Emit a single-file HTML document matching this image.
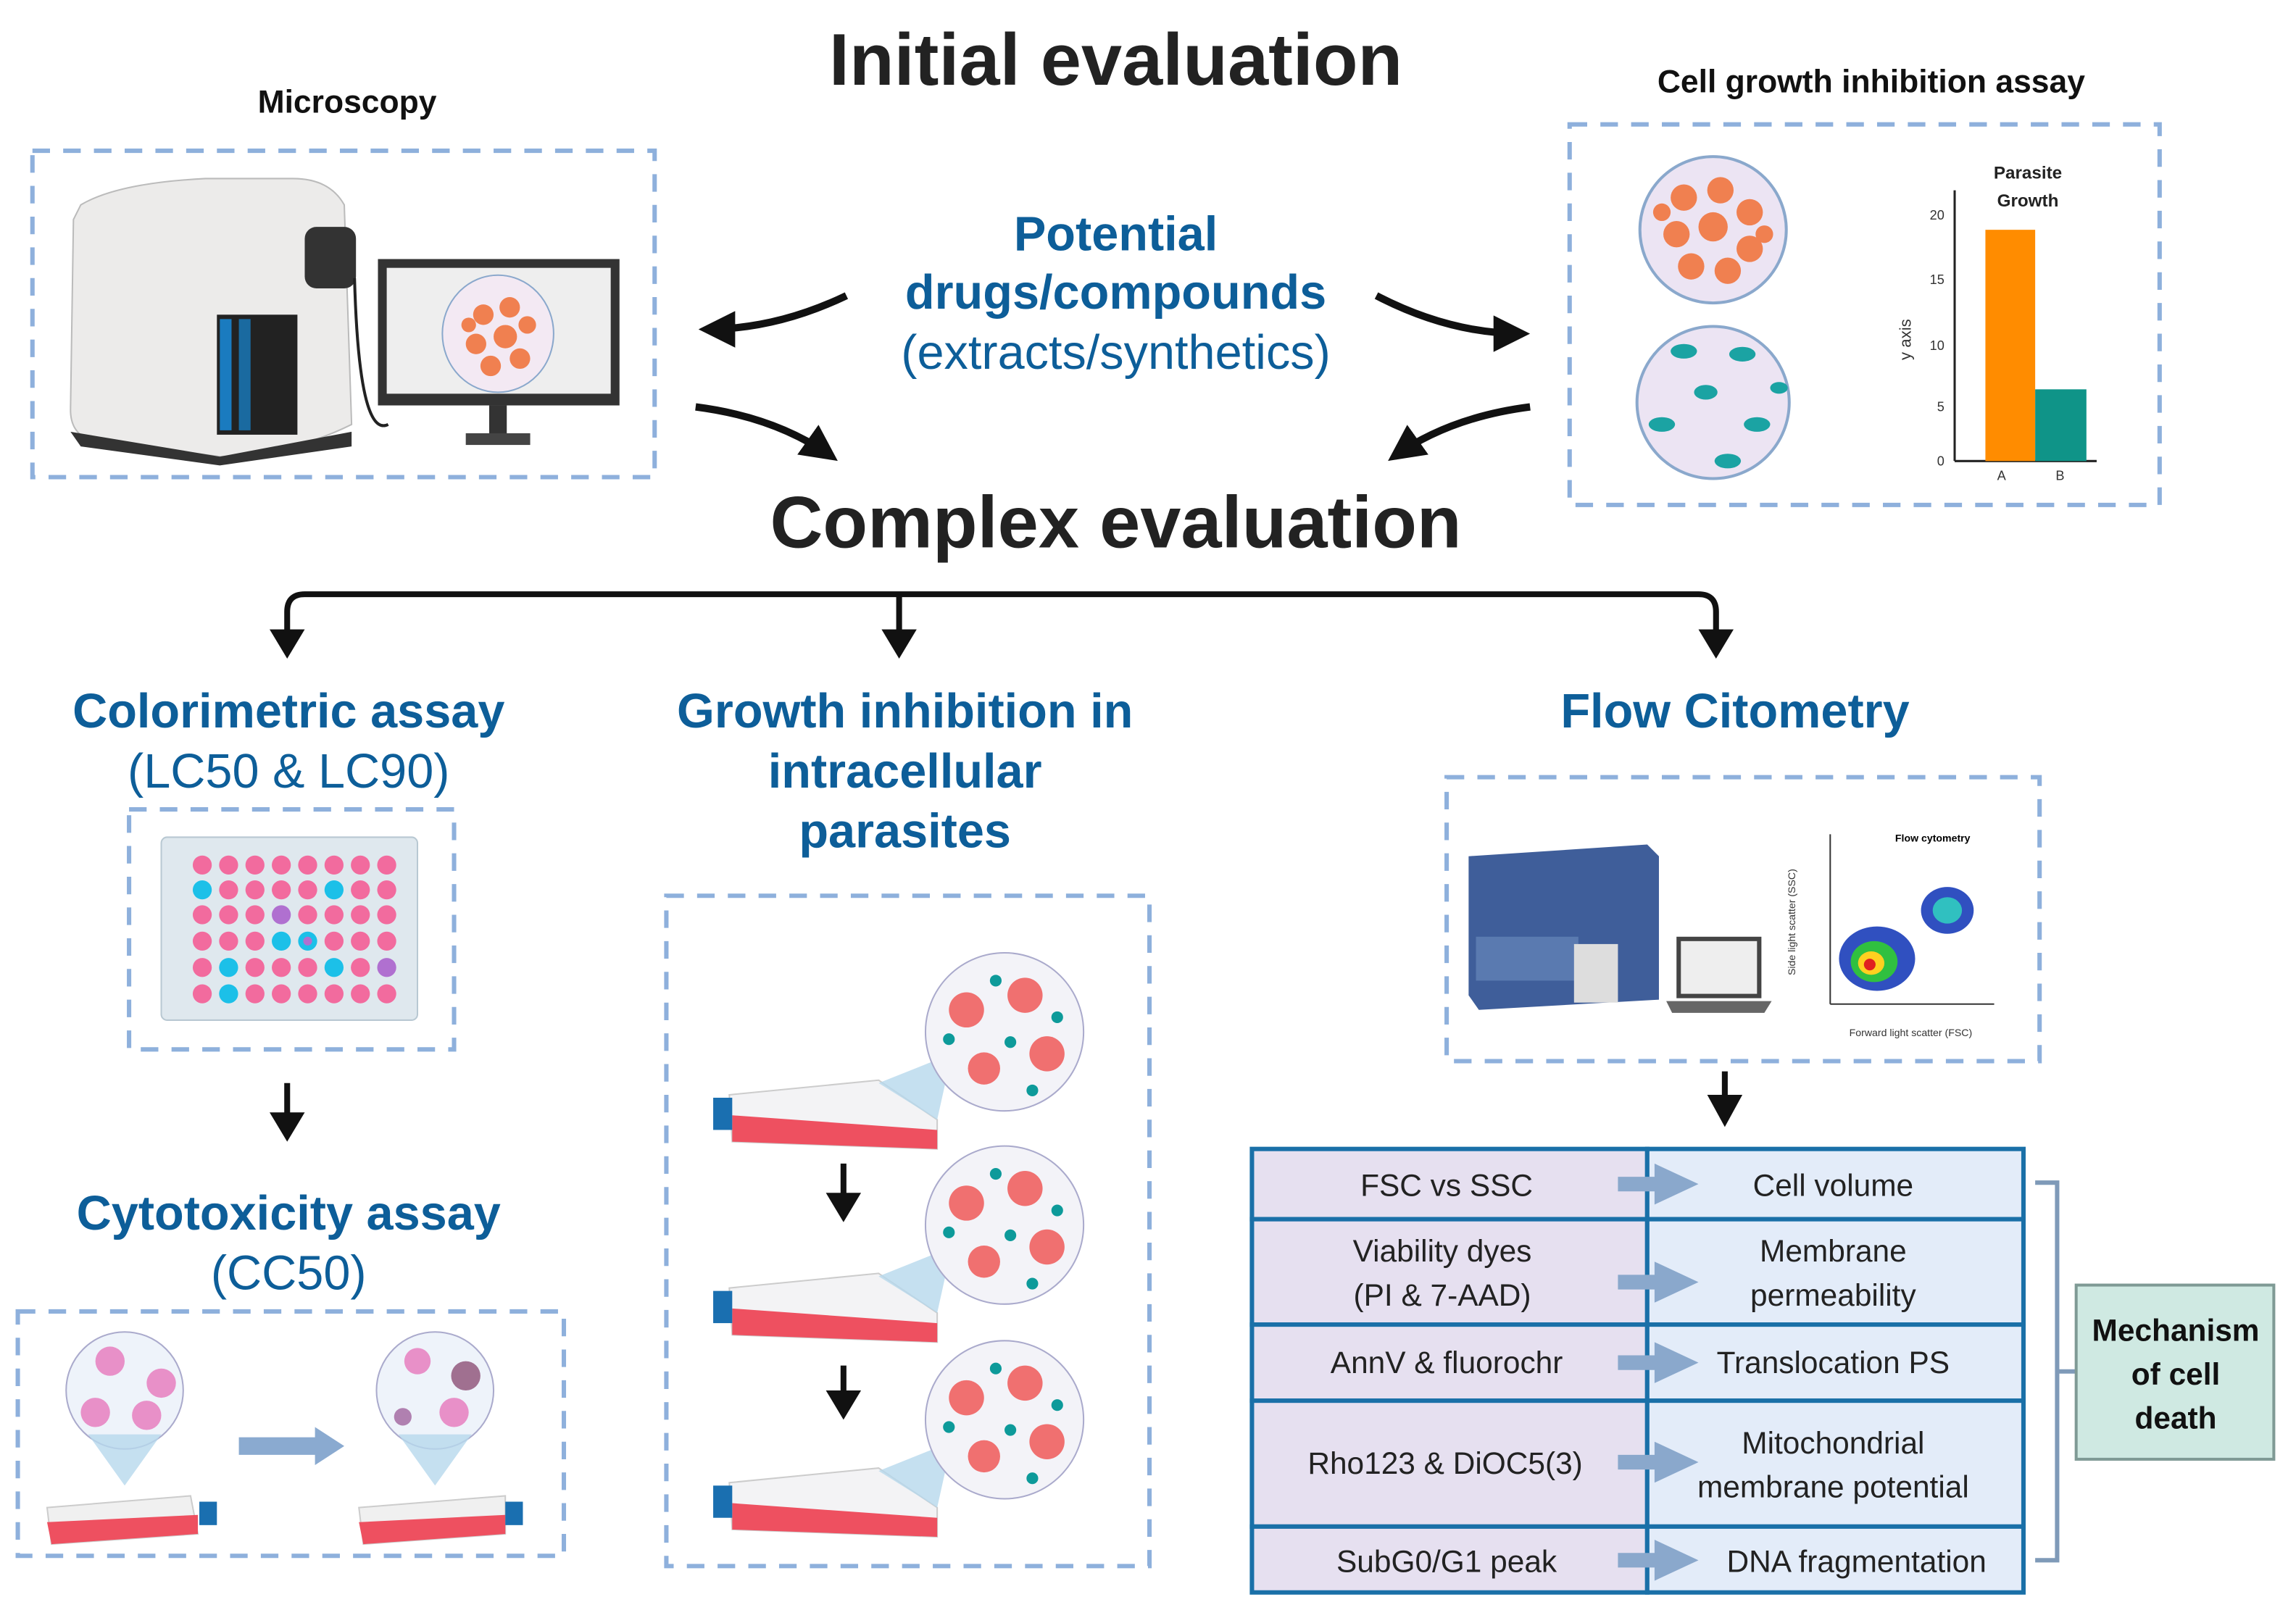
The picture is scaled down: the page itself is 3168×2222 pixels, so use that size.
<!DOCTYPE html>
<html><head><meta charset="utf-8"><style>
html,body{margin:0;padding:0;background:#fff;}
svg{display:block;}
text{font-family:"Liberation Sans",sans-serif;}
</style></head><body>
<svg width="3168" height="2222" viewBox="0 0 1568 1100" xmlns="http://www.w3.org/2000/svg">
<defs>
<marker id="ah" viewBox="0 0 10 10" refX="8" refY="5" markerWidth="5" markerHeight="5" orient="auto"><path d="M0,0 L10,5 L0,10 z" fill="#111"/></marker>
</defs>
<rect width="1568" height="1100" fill="#fff"/>
<!-- titles -->
<text x="762" y="58" font-size="50" font-weight="bold" text-anchor="middle" fill="#222">Initial evaluation</text>
<text x="237" y="77" font-size="22" font-weight="bold" text-anchor="middle" fill="#111">Microscopy</text>
<text x="1278" y="63" font-size="22" font-weight="bold" text-anchor="middle" fill="#111">Cell growth inhibition assay</text>
<text x="762" y="171" font-size="33" font-weight="bold" text-anchor="middle" fill="#0d5e99">Potential</text>
<text x="762" y="211" font-size="33" font-weight="bold" text-anchor="middle" fill="#0d5e99">drugs/compounds</text>
<text x="762" y="252" font-size="33" text-anchor="middle" fill="#0d5e99">(extracts/synthetics)</text>
<text x="762" y="374" font-size="50" font-weight="bold" text-anchor="middle" fill="#222">Complex evaluation</text>

<!-- curved arrows -->
<g fill="none" stroke="#111" stroke-width="5" marker-end="url(#ah)">
<path d="M578,202 Q530,225 482,225"/>
<path d="M940,202 Q990,228 1040,228"/>
<path d="M475,278 Q530,285 568,312"/>
<path d="M1045,278 Q990,285 952,312"/>
</g>

<!-- dashed boxes -->
<g fill="none" stroke="#8eb0dc" stroke-width="3" stroke-dasharray="12,9">
<rect x="22" y="103" width="425" height="223"/>
<rect x="1072" y="85" width="403" height="260"/>
<rect x="88" y="553" width="222" height="164"/>
<rect x="12" y="896" width="373" height="167"/>
<rect x="455" y="612" width="330" height="458"/>
<rect x="988" y="531" width="405" height="194"/>
</g>

<!-- microscope -->
<path d="M55,140 Q80,125 140,122 L200,122 Q225,122 235,140 L240,290 Q200,310 150,312 L60,300 Q48,295 48,280 L50,150 Z" fill="#ecebea" stroke="#bbb"/>
<path d="M48,295 L150,312 L240,295 L240,305 L150,318 L55,305 Z" fill="#333"/>
<rect x="148" y="215" width="55" height="82" fill="#222"/>
<rect x="150" y="218" width="8" height="76" fill="#1a7bbf"/>
<rect x="163" y="218" width="8" height="76" fill="#1a6aa0"/>
<rect x="208" y="155" width="35" height="42" rx="8" fill="#333"/>
<path d="M242,190 Q245,300 265,290" fill="none" stroke="#222" stroke-width="2"/>
<rect x="258" y="177" width="165" height="100" fill="#333"/>
<rect x="264" y="183" width="153" height="86" fill="#eee"/>
<ellipse cx="340" cy="228" rx="38" ry="40" fill="#f3e9f3" stroke="#8aa8cc"/>
<g fill="#f08050"><circle cx="330" cy="215" r="7"/><circle cx="348" cy="210" r="7"/><circle cx="325" cy="235" r="7"/><circle cx="345" cy="230" r="8"/><circle cx="355" cy="245" r="7"/><circle cx="335" cy="250" r="7"/><circle cx="360" cy="222" r="6"/><circle cx="320" cy="222" r="5"/></g>
<rect x="334" y="277" width="12" height="20" fill="#333"/>
<rect x="318" y="296" width="44" height="8" fill="#444"/>

<!-- petri dishes -->
<circle cx="1170" cy="157" r="50" fill="#ece4f3" stroke="#8aa8cc" stroke-width="2"/>
<g fill="#f08050"><circle cx="1150" cy="135" r="9"/><circle cx="1175" cy="130" r="9"/><circle cx="1195" cy="145" r="9"/><circle cx="1145" cy="160" r="9"/><circle cx="1170" cy="155" r="10"/><circle cx="1195" cy="170" r="9"/><circle cx="1155" cy="182" r="9"/><circle cx="1180" cy="185" r="9"/><circle cx="1135" cy="145" r="6"/><circle cx="1205" cy="160" r="6"/></g>
<circle cx="1170" cy="275" r="52" fill="#ece4f3" stroke="#8aa8cc" stroke-width="2"/>
<g fill="#1ba3a3"><ellipse cx="1150" cy="240" rx="9" ry="5"/><ellipse cx="1190" cy="242" rx="9" ry="5"/><ellipse cx="1200" cy="290" rx="9" ry="5"/><ellipse cx="1135" cy="290" rx="9" ry="5"/><ellipse cx="1165" cy="268" rx="8" ry="5"/><ellipse cx="1180" cy="315" rx="9" ry="5"/><ellipse cx="1215" cy="265" rx="6" ry="4"/></g>

<!-- bar chart -->
<text x="1385" y="122" font-size="12" font-weight="bold" text-anchor="middle" fill="#222">Parasite</text>
<text x="1385" y="141" font-size="12" font-weight="bold" text-anchor="middle" fill="#222">Growth</text>
<line x1="1335" y1="130" x2="1335" y2="315" stroke="#222" stroke-width="1.5"/>
<line x1="1335" y1="315" x2="1432" y2="315" stroke="#222" stroke-width="1.5"/>
<rect x="1356" y="157" width="34" height="158" fill="#ff8c00"/>
<rect x="1390" y="266" width="35" height="49" fill="#0f9488"/>
<g font-size="9" fill="#333" text-anchor="end"><text x="1328" y="150">20</text><text x="1328" y="194">15</text><text x="1328" y="239">10</text><text x="1328" y="281">5</text><text x="1328" y="318">0</text></g>
<text x="1364" y="328" font-size="9" fill="#333">A</text><text x="1404" y="328" font-size="9" fill="#333">B</text>
<text x="1305" y="232" font-size="11" fill="#333" transform="rotate(-90 1305 232)" text-anchor="middle">y axis</text>

<!-- branching connector -->
<path d="M196,440 L196,418 Q196,406 208,406 L1160,406 Q1172,406 1172,418 L1172,440" fill="none" stroke="#111" stroke-width="4"/>
<line x1="614" y1="406" x2="614" y2="440" stroke="#111" stroke-width="4"/>
<g fill="#111"><path d="M184,430 L208,430 L196,450 Z"/><path d="M602,430 L626,430 L614,450 Z"/><path d="M1160,430 L1184,430 L1172,450 Z"/></g>

<!-- section titles -->
<g fill="#0d5e99" font-size="33" text-anchor="middle">
<text x="197" y="497" font-weight="bold">Colorimetric assay</text>
<text x="197" y="538">(LC50 &amp; LC90)</text>
<text x="618" y="497" font-weight="bold">Growth inhibition in</text>
<text x="618" y="538" font-weight="bold">intracellular</text>
<text x="618" y="579" font-weight="bold">parasites</text>
<text x="1185" y="497" font-weight="bold">Flow Citometry</text>
<text x="197" y="840" font-weight="bold">Cytotoxicity assay</text>
<text x="197" y="881">(CC50)</text>
</g>

<!-- plate -->
<rect x="110" y="572" width="175" height="125" rx="4" fill="#dfe8ee" stroke="#b8c8d2"/>
<g id="plate">
<g fill="#f26b9e">
<circle cx="138" cy="591" r="6.5"/><circle cx="156" cy="591" r="6.5"/><circle cx="174" cy="591" r="6.5"/><circle cx="192" cy="591" r="6.5"/><circle cx="210" cy="591" r="6.5"/><circle cx="228" cy="591" r="6.5"/><circle cx="246" cy="591" r="6.5"/><circle cx="264" cy="591" r="6.5"/>
<circle cx="156" cy="608" r="6.5"/><circle cx="174" cy="608" r="6.5"/><circle cx="192" cy="608" r="6.5"/><circle cx="210" cy="608" r="6.5"/><circle cx="246" cy="608" r="6.5"/><circle cx="264" cy="608" r="6.5"/>
<circle cx="138" cy="625" r="6.5"/><circle cx="156" cy="625" r="6.5"/><circle cx="174" cy="625" r="6.5"/><circle cx="210" cy="625" r="6.5"/><circle cx="228" cy="625" r="6.5"/><circle cx="246" cy="625" r="6.5"/><circle cx="264" cy="625" r="6.5"/>
<circle cx="138" cy="643" r="6.5"/><circle cx="156" cy="643" r="6.5"/><circle cx="174" cy="643" r="6.5"/><circle cx="228" cy="643" r="6.5"/><circle cx="246" cy="643" r="6.5"/><circle cx="264" cy="643" r="6.5"/>
<circle cx="138" cy="661" r="6.5"/><circle cx="174" cy="661" r="6.5"/><circle cx="192" cy="661" r="6.5"/><circle cx="210" cy="661" r="6.5"/><circle cx="246" cy="661" r="6.5"/>
<circle cx="138" cy="679" r="6.5"/><circle cx="174" cy="679" r="6.5"/><circle cx="192" cy="679" r="6.5"/><circle cx="210" cy="679" r="6.5"/><circle cx="228" cy="679" r="6.5"/><circle cx="246" cy="679" r="6.5"/><circle cx="264" cy="679" r="6.5"/>
</g>
<g fill="#1cc0e8"><circle cx="138" cy="608" r="6.5"/><circle cx="228" cy="608" r="6.5"/><circle cx="192" cy="643" r="6.5"/><circle cx="210" cy="643" r="6.5"/><circle cx="156" cy="661" r="6.5"/><circle cx="228" cy="661" r="6.5"/><circle cx="156" cy="679" r="6.5"/></g>
<g fill="#b070d0"><circle cx="192" cy="625" r="6.5"/><circle cx="210" cy="643" r="3"/><circle cx="264" cy="661" r="6.5"/></g>
</g>
<line x1="196" y1="740" x2="196" y2="765" stroke="#111" stroke-width="4"/>
<path d="M184,760 L208,760 L196,780 Z" fill="#111"/>

<!-- cytotox -->
<circle cx="85" cy="950" r="40" fill="#eef3fa" stroke="#aac"/>
<path d="M60,980 L110,980 L85,1015 Z" fill="#b6d8ec" opacity="0.8"/>
<g fill="#e890c8"><circle cx="75" cy="930" r="10"/><circle cx="110" cy="945" r="10"/><circle cx="65" cy="965" r="10"/><circle cx="100" cy="967" r="10"/></g>
<path d="M32,1030 L130,1022 L135,1048 L35,1055 Z" fill="#f0f0f0" stroke="#ccc"/>
<path d="M32,1040 L135,1035 L135,1048 L35,1055 Z" fill="#ee5060"/>
<rect x="136" y="1026" width="12" height="16" fill="#1a6fb0"/>
<circle cx="297" cy="950" r="40" fill="#eef3fa" stroke="#aac"/>
<path d="M272,980 L322,980 L297,1015 Z" fill="#b6d8ec" opacity="0.8"/>
<g fill="#e890c8"><circle cx="285" cy="930" r="9"/><circle cx="310" cy="965" r="10"/><circle cx="275" cy="968" r="6" fill="#b080b0"/><circle cx="318" cy="940" r="10" fill="#a07090"/></g>
<path d="M245,1030 L345,1022 L345,1048 L248,1055 Z" fill="#f0f0f0" stroke="#ccc"/>
<path d="M245,1040 L345,1035 L345,1048 L248,1055 Z" fill="#ee5060"/>
<rect x="345" y="1026" width="12" height="16" fill="#1a6fb0"/>
<path d="M163,982 L215,982 L215,975 L235,988 L215,1001 L215,994 L163,994 Z" fill="#8aaad0"/>

<!-- middle flasks -->
<g id="fl">
<path d="M498,748 L600,738 L640,765 L640,785 L500,780 Z" fill="#f3f3f5" stroke="#ccc"/>
<path d="M500,762 L640,772 L640,785 L500,780 Z" fill="#ee5060"/>
<rect x="487" y="750" width="13" height="22" fill="#1a6fb0"/>
<path d="M600,740 L640,765 L650,720 Z" fill="#b6d8ec" opacity="0.8"/>
<circle cx="686" cy="705" r="54" fill="#f3f3f8" stroke="#aac"/>
<g fill="#f07070"><circle cx="660" cy="690" r="12"/><circle cx="700" cy="680" r="12"/><circle cx="715" cy="720" r="12"/><circle cx="672" cy="730" r="11"/></g>
<g fill="#0d9a9a"><circle cx="680" cy="670" r="4"/><circle cx="648" cy="710" r="4"/><circle cx="690" cy="712" r="4"/><circle cx="705" cy="745" r="4"/><circle cx="722" cy="695" r="4"/></g>
</g>
<use href="#fl" transform="translate(0,132)"/>
<use href="#fl" transform="translate(0,265)"/>
<g fill="#111"><line x1="576" y1="795" x2="576" y2="820" stroke="#111" stroke-width="4"/><path d="M564,815 L588,815 L576,835 Z"/><line x1="576" y1="933" x2="576" y2="955" stroke="#111" stroke-width="4"/><path d="M564,950 L588,950 L576,970 Z"/></g>

<!-- flow cytometer -->
<path d="M1003,585 L1125,577 L1133,585 L1133,683 L1010,690 L1003,680 Z" fill="#3f5e9a"/>
<rect x="1008" y="640" width="70" height="30" fill="#5a7ab0"/>
<rect x="1075" y="645" width="30" height="40" fill="#ddd"/>
<rect x="1145" y="640" width="58" height="42" fill="#444"/>
<rect x="1148" y="643" width="52" height="36" fill="#eee"/>
<path d="M1138,684 L1210,684 L1205,692 L1142,692 Z" fill="#666"/>
<line x1="1250" y1="570" x2="1250" y2="686" stroke="#333"/>
<line x1="1250" y1="686" x2="1362" y2="686" stroke="#333"/>
<text x="1320" y="575" font-size="7" font-weight="bold" text-anchor="middle">Flow cytometry</text>
<text x="1305" y="708" font-size="7" text-anchor="middle" fill="#333">Forward light scatter (FSC)</text>
<text x="1226" y="630" font-size="7" fill="#333" text-anchor="middle" transform="rotate(-90 1226 630)">Side light scatter (SSC)</text>
<ellipse cx="1282" cy="655" rx="26" ry="22" fill="#3050c0"/>
<ellipse cx="1280" cy="657" rx="16" ry="14" fill="#30c040"/>
<ellipse cx="1278" cy="658" rx="9" ry="8" fill="#ffd020"/>
<ellipse cx="1277" cy="659" rx="4" ry="4" fill="#e02020"/>
<ellipse cx="1330" cy="622" rx="18" ry="16" fill="#3050c0"/>
<ellipse cx="1330" cy="622" rx="10" ry="9" fill="#30c0c0"/>
<line x1="1178" y1="732" x2="1178" y2="752" stroke="#111" stroke-width="4"/>
<path d="M1166,748 L1190,748 L1178,770 Z" fill="#111"/>

<!-- table -->
<g stroke="#1a70a8" stroke-width="3">
<rect x="855" y="785" width="270" height="48" fill="#e6e0f0"/><rect x="1125" y="785" width="257" height="48" fill="#e3ecf9"/>
<rect x="855" y="833" width="270" height="72" fill="#e6e0f0"/><rect x="1125" y="833" width="257" height="72" fill="#e3ecf9"/>
<rect x="855" y="905" width="270" height="52" fill="#e6e0f0"/><rect x="1125" y="905" width="257" height="52" fill="#e3ecf9"/>
<rect x="855" y="957" width="270" height="86" fill="#e6e0f0"/><rect x="1125" y="957" width="257" height="86" fill="#e3ecf9"/>
<rect x="855" y="1043" width="270" height="45" fill="#e6e0f0"/><rect x="1125" y="1043" width="257" height="45" fill="#e3ecf9"/>
</g>
<g fill="#8aa8cc">
<path d="M1105,804 L1130,804 L1130,795 L1160,809 L1130,823 L1130,814 L1105,814 Z"/>
<path d="M1105,871 L1130,871 L1130,862 L1160,876 L1130,890 L1130,881 L1105,881 Z"/>
<path d="M1105,926 L1130,926 L1130,917 L1160,931 L1130,945 L1130,936 L1105,936 Z"/>
<path d="M1105,994 L1130,994 L1130,985 L1160,999 L1130,1013 L1130,1004 L1105,1004 Z"/>
<path d="M1105,1061 L1130,1061 L1130,1052 L1160,1066 L1130,1080 L1130,1071 L1105,1071 Z"/>
</g>
<g font-size="21" fill="#222" text-anchor="middle">
<text x="988" y="817">FSC vs SSC</text><text x="1252" y="817">Cell volume</text>
<text x="985" y="862">Viability dyes</text><text x="985" y="892">(PI &amp; 7-AAD)</text>
<text x="1252" y="862">Membrane</text><text x="1252" y="892">permeability</text>
<text x="988" y="938">AnnV &amp; fluorochr</text><text x="1252" y="938">Translocation PS</text>
<text x="987" y="1007">Rho123 &amp; DiOC5(3)</text>
<text x="1252" y="993">Mitochondrial</text><text x="1252" y="1023">membrane potential</text>
<text x="988" y="1074">SubG0/G1 peak</text><text x="1268" y="1074">DNA fragmentation</text>
</g>
<path d="M1390,808 L1405,808 L1405,1066 L1390,1066 M1405,937 L1418,937" fill="none" stroke="#7f9ab8" stroke-width="3"/>
<rect x="1418" y="878" width="135" height="119" fill="#cfe9e2" stroke="#7f9a95" stroke-width="2"/>
<g font-size="21" font-weight="bold" fill="#111" text-anchor="middle">
<text x="1486" y="916">Mechanism</text><text x="1486" y="946">of cell</text><text x="1486" y="976">death</text>
</g>
</svg>
</body></html>
